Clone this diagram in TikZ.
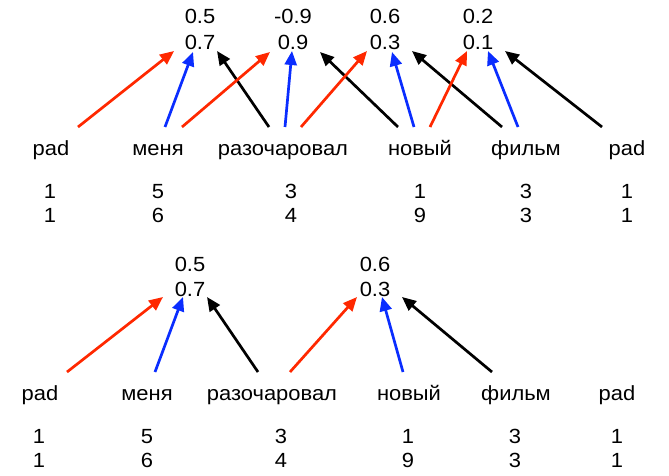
\documentclass[tikz,border=0pt]{standalone}
\usepackage{fontspec}
\setmainfont{Liberation Sans}[FakeStretch=1.07]
\usetikzlibrary{arrows.meta}
\definecolor{ared}{RGB}{255,40,0}
\definecolor{ablue}{RGB}{10,45,255}
\tikzset{
  txt/.style={anchor=base,inner sep=0pt,font=\fontsize{20.5}{24}\selectfont},
  arr/.style={line width=2.7pt,-{Triangle[length=14pt,width=12pt]}},
  rarr/.style={arr,ared},
  barr/.style={arr,ablue},
  karr/.style={arr,black},
}
\begin{document}
\begin{tikzpicture}[x=1pt,y=-1pt]
\useasboundingbox (0,0) rectangle (669,476);
% ---------- top ----------
\node[txt] (a1) at (200,24) {0.5};
\node[txt] (a2) at (200,50) {0.7};
\node[txt] (b1) at (293,24) {-0.9};
\node[txt] (b2) at (293,50) {0.9};
\node[txt] (c1) at (385,24) {0.6};
\node[txt] (c2) at (385,50) {0.3};
\node[txt] (d1) at (478,24) {0.2};
\node[txt] (d2) at (478,50) {0.1};
\node[txt] (w1) at (51,156) {pad};
\node[txt] (w2) at (158,156) {меня};
\node[txt] (w3) at (283,156) {разочаровал};
\node[txt] (w4) at (420,156) {новый};
\node[txt] (w5) at (526,156) {фильм};
\node[txt] (w6) at (627,156) {pad};
\node[txt] (n11) at (50,198) {1};
\node[txt] (n12) at (158,198) {5};
\node[txt] (n13) at (291,198) {3};
\node[txt] (n14) at (420,198) {1};
\node[txt] (n15) at (526,198) {3};
\node[txt] (n16) at (627,198) {1};
\node[txt] (n21) at (50,222) {1};
\node[txt] (n22) at (158,222) {6};
\node[txt] (n23) at (291,222) {4};
\node[txt] (n24) at (420,222) {9};
\node[txt] (n25) at (526,222) {3};
\node[txt] (n26) at (627,222) {1};
% arrow ends top
\coordinate (s1) at (78,127);   \coordinate (e1) at (174,51);
\coordinate (s2) at (165,127);  \coordinate (e2) at (193,52);
\coordinate (s3) at (269,127);  \coordinate (e3) at (217,51);
\coordinate (s4) at (182,127);  \coordinate (e4) at (270,52);
\coordinate (s5) at (285,127);  \coordinate (e5) at (292,51);
\coordinate (s6) at (398,127);  \coordinate (e6) at (320,52);
\coordinate (s7) at (301,127);  \coordinate (e7) at (367,51);
\coordinate (s8) at (414,127);  \coordinate (e8) at (392,52);
\coordinate (s9) at (502,127);  \coordinate (e9) at (412,51);
\coordinate (s10) at (430,127); \coordinate (e10) at (467,51);
\coordinate (s11) at (518,127); \coordinate (e11) at (488,51);
\coordinate (s12) at (602,127); \coordinate (e12) at (505,51);
\draw[rarr] (s1) -- (e1);
\draw[barr] (s2) -- (e2);
\draw[karr] (s3) -- (e3);
\draw[rarr] (s4) -- (e4);
\draw[barr] (s5) -- (e5);
\draw[karr] (s6) -- (e6);
\draw[rarr] (s7) -- (e7);
\draw[barr] (s8) -- (e8);
\draw[karr] (s9) -- (e9);
\draw[rarr] (s10) -- (e10);
\draw[barr] (s11) -- (e11);
\draw[karr] (s12) -- (e12);
% ---------- bottom ----------
\node[txt] (f1) at (190,271) {0.5};
\node[txt] (f2) at (190,296) {0.7};
\node[txt] (g1) at (375,271) {0.6};
\node[txt] (g2) at (375,296) {0.3};
\node[txt] (v1) at (40,400) {pad};
\node[txt] (v2) at (147,400) {меня};
\node[txt] (v3) at (272,400) {разочаровал};
\node[txt] (v4) at (409,400) {новый};
\node[txt] (v5) at (516,400) {фильм};
\node[txt] (v6) at (617,400) {pad};
\node[txt] (m11) at (39,443) {1};
\node[txt] (m12) at (147,443) {5};
\node[txt] (m13) at (281,443) {3};
\node[txt] (m14) at (408,443) {1};
\node[txt] (m15) at (515,443) {3};
\node[txt] (m16) at (617,443) {1};
\node[txt] (m21) at (39,467) {1};
\node[txt] (m22) at (147,467) {6};
\node[txt] (m23) at (281,467) {4};
\node[txt] (m24) at (408,467) {9};
\node[txt] (m25) at (515,467) {3};
\node[txt] (m26) at (617,467) {1};
\coordinate (t1) at (67,372);  \coordinate (u1) at (163,297);
\coordinate (t2) at (155,372); \coordinate (u2) at (183,297);
\coordinate (t3) at (258,372); \coordinate (u3) at (207,297);
\coordinate (t4) at (290,372); \coordinate (u4) at (357,297);
\coordinate (t5) at (403,372); \coordinate (u5) at (382,297);
\coordinate (t6) at (492,372); \coordinate (u6) at (402,297);
\draw[rarr] (t1) -- (u1);
\draw[barr] (t2) -- (u2);
\draw[karr] (t3) -- (u3);
\draw[rarr] (t4) -- (u4);
\draw[barr] (t5) -- (u5);
\draw[karr] (t6) -- (u6);
\end{tikzpicture}
\end{document}
